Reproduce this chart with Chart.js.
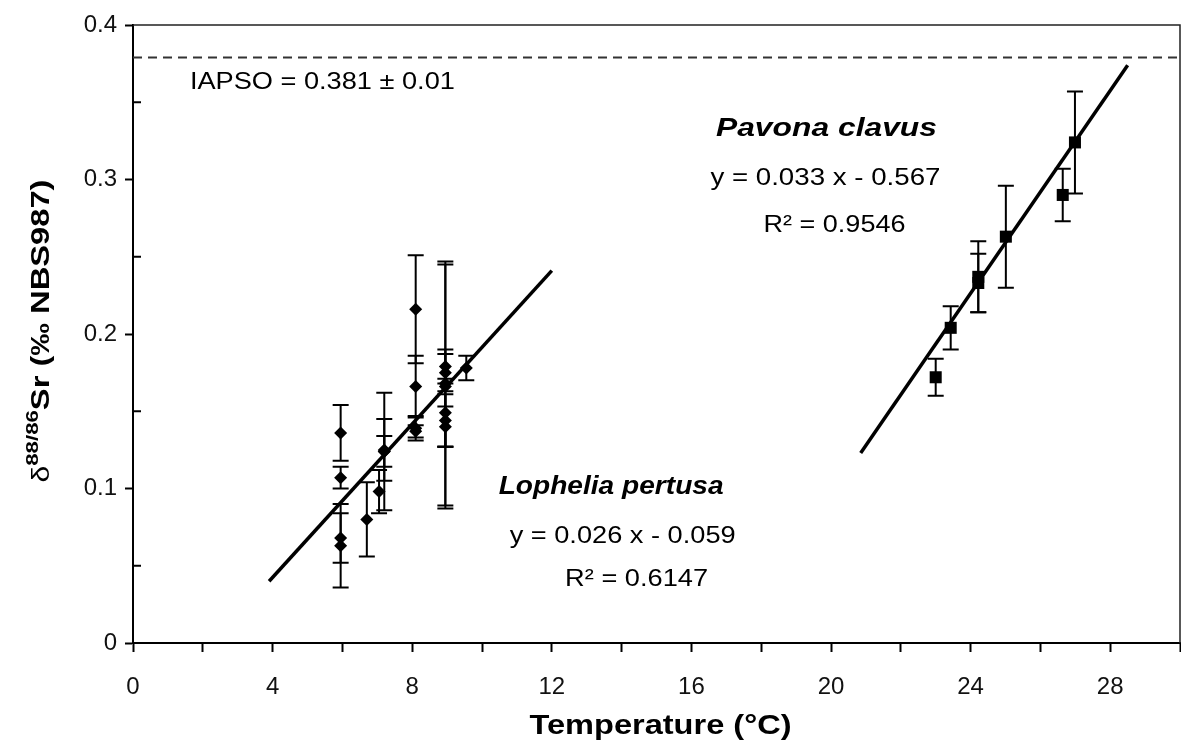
<!DOCTYPE html>
<html>
<head>
<meta charset="utf-8">
<script src="https://cdn.jsdelivr.net/npm/chart.js@4.4.1/dist/chart.umd.min.js"></script>
<style>
  html, body { margin: 0; padding: 0; background: #fff; overflow: hidden; }
  canvas { display: block; }
</style>
</head>
<body>
<canvas id="chart-sr" width="1181" height="749"></canvas>
<script>
// Lophelia pertusa (diamonds)
const lopheliaTemp = [5.95, 5.95, 5.95, 5.95, 6.7, 7.05, 7.2, 7.2, 7.2, 8.1, 8.1, 8.1, 8.1, 8.95, 8.95, 8.95, 8.95, 8.95, 8.95, 8.95, 9.55];
const lopheliaSr   = [0.136, 0.107, 0.068, 0.063, 0.080, 0.098, 0.124, 0.125, 0.124, 0.216, 0.166, 0.139, 0.137, 0.179, 0.175, 0.168, 0.166, 0.149, 0.144, 0.140, 0.178];
const lopheliaErr  = [0.018, 0.007, 0.016, 0.027, 0.024, 0.014, 0.038, 0.020, 0.010, 0.035, 0.020, 0.008, 0.004, 0.011, 0.012, 0.079, 0.079, 0.022, 0.017, 0.013, 0.008];

// Pavona clavus (squares)
const pavonaTemp = [23.0, 23.43, 24.22, 24.22, 25.01, 26.64, 26.99];
const pavonaSr   = [0.172, 0.204, 0.237, 0.233, 0.263, 0.290, 0.324];
const pavonaErr  = [0.012, 0.014, 0.023, 0.019, 0.033, 0.017, 0.033];

// regression lines and seawater reference
const lopheliaFitTemp = [3.9, 12.0];
const lopheliaFitSr   = [0.040, 0.241];
const pavonaFitTemp = [20.85, 28.5];
const pavonaFitSr   = [0.123, 0.374];
const iapsoTemp = [0, 30];
const iapsoSr   = [0.379, 0.379];

// labelled ticks
const xTickLabels = [0, 4, 8, 12, 16, 20, 24, 28];
const yTickLabels = ['0', '0.1', '0.2', '0.3', '0.4'];

const FONT = '"Liberation Sans", Arial, Helvetica, sans-serif';

// text placed in data coordinates; w is the width the text is fitted to
const notes = [
  { text: 'IAPSO = 0.381 \u00b1 0.01', x: 1.63, y: 0.363, font: `24px ${FONT}`, w: 265, align: 'left' },
  { text: 'Pavona clavus', x: 19.87, y: 0.333, font: `italic bold 26px ${FONT}`, w: 221 },
  { text: 'y = 0.033 x - 0.567', x: 19.84, y: 0.301, font: `24px ${FONT}`, w: 230 },
  { text: 'R\u00b2 = 0.9546', x: 20.1, y: 0.2705, font: `24px ${FONT}`, w: 142 },
  { text: 'Lophelia pertusa', x: 13.7, y: 0.101, font: `italic bold 26px ${FONT}`, w: 225 },
  { text: 'y = 0.026 x - 0.059', x: 14.03, y: 0.0693, font: `24px ${FONT}`, w: 226 },
  { text: 'R\u00b2 = 0.6147', x: 14.43, y: 0.0411, font: `24px ${FONT}`, w: 143 }
];

function toPoints(xs, ys) {
  return xs.map((x, i) => ({ x, y: ys[i] }));
}

function fitText(ctx, text, cx, cy, font, width, align) {
  ctx.font = font;
  const measured = ctx.measureText(text).width;
  const s = width / measured;
  ctx.save();
  ctx.translate(cx, cy);
  ctx.scale(s, 1);
  ctx.textAlign = align || 'center';
  ctx.textBaseline = 'middle';
  ctx.fillText(text, 0, 0);
  ctx.restore();
}

// the plot box runs to the right edge of the canvas
const stretchPlugin = {
  id: 'stretchRight',
  afterLayout(chart) {
    const target = chart.width - 1;
    const a = chart.chartArea;
    if (a.right === target) return;
    a.right = target;
    a.width = a.right - a.left;
    const x = chart.scales.x;
    x.right = target;
    x.width = x.right - x.left;
    x.configure();
  }
};

const errorBarPlugin = {
  id: 'errorBars',
  beforeDatasetsDraw(chart) {
    const { ctx, scales } = chart;
    const groups = [
      [lopheliaTemp, lopheliaSr, lopheliaErr],
      [pavonaTemp, pavonaSr, pavonaErr]
    ];
    ctx.save();
    ctx.strokeStyle = '#000';
    ctx.lineWidth = 2;
    const cap = 8;
    groups.forEach(([xs, ys, es]) => {
      xs.forEach((t, i) => {
        const px = scales.x.getPixelForValue(t);
        const top = scales.y.getPixelForValue(ys[i] + es[i]);
        const bot = scales.y.getPixelForValue(ys[i] - es[i]);
        ctx.beginPath();
        ctx.moveTo(px, top);
        ctx.lineTo(px, bot);
        ctx.moveTo(px - cap, top);
        ctx.lineTo(px + cap, top);
        ctx.moveTo(px - cap, bot);
        ctx.lineTo(px + cap, bot);
        ctx.stroke();
      });
    });
    ctx.restore();
  }
};

const framePlugin = {
  id: 'frameAndText',
  afterDraw(chart) {
    const { ctx, chartArea: a, scales } = chart;
    ctx.save();
    // top and right frame
    ctx.strokeStyle = '#222';
    ctx.lineWidth = 1.5;
    ctx.beginPath();
    ctx.moveTo(a.left, a.top);
    ctx.lineTo(a.right, a.top);
    ctx.lineTo(a.right, a.bottom);
    ctx.stroke();

    // minor y ticks point inward
    ctx.strokeStyle = '#000';
    ctx.lineWidth = 2;
    scales.y.ticks.forEach((t) => {
      if (t.label) return;
      const py = scales.y.getPixelForValue(t.value);
      ctx.beginPath();
      ctx.moveTo(a.left, py);
      ctx.lineTo(a.left + 8, py);
      ctx.stroke();
    });

    ctx.fillStyle = '#000';
    notes.forEach((n) => {
      const px = scales.x.getPixelForValue(n.x);
      const py = scales.y.getPixelForValue(n.y);
      fitText(ctx, n.text, px, py, n.font, n.w, n.align === 'left' ? 'left' : 'center');
    });

    // x axis title
    fitText(ctx, 'Temperature (\u00b0C)', (a.left + a.right) / 2 + 4, 727, `bold 27px ${FONT}`, 262, 'center');

    // y axis title with superscript, rotated
    const parts = [
      { t: '\u03b4', font: `23px ${FONT}`, dy: 0 },
      { t: '88/86', font: `bold 17px ${FONT}`, dy: -11 },
      { t: 'Sr (\u2030 NBS987)', font: `bold 25px ${FONT}`, dy: 0 }
    ];
    let total = 0;
    parts.forEach((p) => { ctx.font = p.font; p.w = ctx.measureText(p.t).width; total += p.w; });
    const target = 303;
    const s = target / total;
    ctx.translate(49, (a.top + a.bottom) / 2 - 3);
    ctx.rotate(-Math.PI / 2);
    ctx.scale(s, 1);
    ctx.textAlign = 'left';
    ctx.textBaseline = 'alphabetic';
    let xo = -total / 2;
    parts.forEach((p) => {
      ctx.font = p.font;
      ctx.fillText(p.t, xo, p.dy);
      xo += p.w;
    });
    ctx.restore();
  }
};

new Chart(document.getElementById('chart-sr'), {
  type: 'scatter',
  data: {
    datasets: [
      {
        label: 'Lophelia pertusa',
        data: toPoints(lopheliaTemp, lopheliaSr),
        pointStyle: 'rectRot',
        pointRadius: 6.5,
        backgroundColor: '#000',
        borderColor: '#000',
        borderWidth: 0
      },
      {
        label: 'Pavona clavus',
        data: toPoints(pavonaTemp, pavonaSr),
        pointStyle: 'rect',
        pointRadius: 8.5,
        backgroundColor: '#000',
        borderColor: '#000',
        borderWidth: 0
      },
      {
        label: 'Lophelia fit',
        data: toPoints(lopheliaFitTemp, lopheliaFitSr),
        showLine: true,
        pointRadius: 0,
        borderColor: '#000',
        borderWidth: 3.5
      },
      {
        label: 'Pavona fit',
        data: toPoints(pavonaFitTemp, pavonaFitSr),
        showLine: true,
        pointRadius: 0,
        borderColor: '#000',
        borderWidth: 3.5
      },
      {
        label: 'IAPSO',
        data: toPoints(iapsoTemp, iapsoSr),
        showLine: true,
        pointRadius: 0,
        borderColor: '#333',
        borderWidth: 2,
        borderDash: [9, 6]
      }
    ]
  },
  options: {
    responsive: false,
    animation: false,
    events: [],
    layout: { padding: { top: 25, right: 1, left: 0, bottom: 0 } },
    plugins: {
      legend: { display: false },
      tooltip: { enabled: false }
    },
    scales: {
      x: {
        type: 'linear',
        min: 0,
        max: 30,
        afterFit: (scale) => {
          scale.height = 106;
          scale.paddingLeft = 0;
          scale.paddingRight = 0;
        },
        border: { color: '#000', width: 2 },
        grid: { drawOnChartArea: false, tickLength: 9, tickWidth: 2, tickColor: '#000' },
        ticks: {
          stepSize: 2,
          autoSkip: false,
          maxRotation: 0,
          padding: 21,
          color: '#111',
          font: { family: FONT, size: 24 },
          callback: (v) => (xTickLabels.includes(v) ? String(v) : '')
        }
      },
      y: {
        type: 'linear',
        min: 0,
        max: 0.4,
        afterFit: (scale) => {
          scale.width = 133;
          scale.paddingTop = 0;
          scale.paddingBottom = 0;
        },
        border: { color: '#000', width: 2 },
        grid: {
          drawOnChartArea: false,
          tickLength: 8,
          tickWidth: 2,
          tickColor: (c) => (c.tick && c.tick.label ? '#000' : 'rgba(0,0,0,0)')
        },
        ticks: {
          stepSize: 0.05,
          autoSkip: false,
          padding: 8,
          color: '#111',
          font: { family: FONT, size: 24 },
          callback: (v) => {
            const i = Math.round(v * 10);
            return Math.abs(v * 10 - i) < 1e-6 ? yTickLabels[i] : '';
          }
        }
      }
    }
  },
  plugins: [stretchPlugin, errorBarPlugin, framePlugin]
});
</script>
</body>
</html>
